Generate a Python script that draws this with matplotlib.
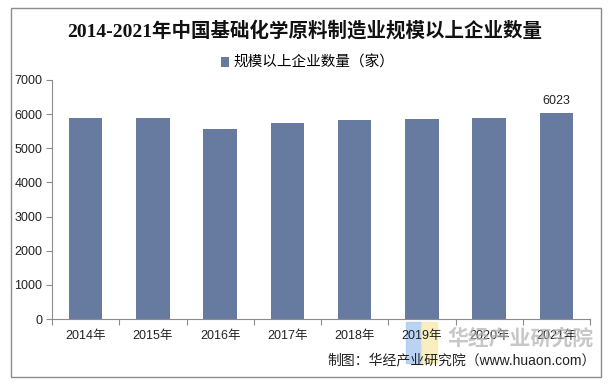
import matplotlib
matplotlib.use("Agg")
import matplotlib.pyplot as plt
from matplotlib.patches import Rectangle
import numpy as np

years = ["2014年", "2015年", "2016年", "2017年", "2018年", "2019年", "2020年", "2021年"]
values = [5891, 5891, 5569, 5745, 5833, 5862, 5891, 6023]
series_name = "规模以上企业数量（家）"
title = "2014-2021年中国基础化学原料制造业规模以上企业数量"
source = "制图：华经产业研究院（www.huaon.com）"
yticks = [0, 1000, 2000, 3000, 4000, 5000, 6000, 7000]

W, H = 609, 385
fig = plt.figure(figsize=(W / 100, H / 100), dpi=100)
fam = ["Liberation Sans", "Noto Sans CJK SC", "DejaVu Sans"]
plt.rcParams["font.family"] = fam

# outer border
fig.add_artist(Rectangle((10.5 / W, 1 - 377 / H), (601 - 10.5) / W, (377 - 8) / H,
                         transform=fig.transFigure, fill=False, edgecolor="#8c8c8c", lw=1.0))

ax = fig.add_axes([52 / W, 1 - 319 / H, (590 - 52) / W, (319 - 80) / H])
x = np.arange(len(years))
bar_color = "#677BA1"
ax.bar(x, values, width=0.5, color=bar_color, label=series_name, zorder=2)
ax.set_xlim(-0.5, len(years) - 0.5)
ax.set_ylim(0, 7000)
ax.set_yticks(yticks)
ax.set_yticklabels([str(v) for v in yticks], fontsize=9, color="#222222")
ax.set_xticks(x)
ax.set_xticklabels(years, fontsize=9, color="#222222")
ax.set_xticks(np.arange(-0.5, len(years)), minor=True)
ax.tick_params(axis="x", which="major", length=0, pad=8)
ax.tick_params(axis="x", which="minor", length=4, color="#8c8c8c", width=0.8)
ax.tick_params(axis="y", length=4, color="#8c8c8c", width=0.8, pad=3)
for s in ["top", "right"]:
    ax.spines[s].set_visible(False)
for s in ["left", "bottom"]:
    ax.spines[s].set_color("#8c8c8c")
    ax.spines[s].set_linewidth(0.8)

# data label for last bar
ax.text(x[-1], values[-1] + 180, str(values[-1]), ha="center", va="bottom",
        fontsize=9, color="#222222")

# title
fig.text(0.5, 1 - 31 / H, title, ha="center", va="center", fontsize=14,
         fontweight="bold", family=["Liberation Serif", "Noto Sans CJK SC"], color="#111111")

# legend
leg = fig.legend(loc="center", bbox_to_anchor=(0.505, 1 - 63 / H), frameon=False,
                 handlelength=0.6, handleheight=0.6, handletextpad=0.3,
                 prop={"family": fam, "size": 10.5})

# watermark blocks
fig.add_artist(Rectangle((406 / W, 1 - 363 / H), 15 / W, 41 / H, transform=fig.transFigure,
                         color="#a9c8f0", alpha=0.8, zorder=0))
fig.add_artist(Rectangle((421 / W, 1 - 363 / H), 16 / W, 41 / H, transform=fig.transFigure,
                         color="#f8eab0", alpha=0.8, zorder=0))
fig.text(520 / W, 1 - 338 / H, "华经产业研究院", ha="center", va="center", fontsize=15,
         fontweight="bold", color="#b0b0b0", alpha=0.7, family=["Noto Sans CJK SC"])

# source
fig.text(596 / W, 1 - 360 / H, source, ha="right", va="center", fontsize=10, color="#222222")

fig.savefig("out.png", dpi=100)
